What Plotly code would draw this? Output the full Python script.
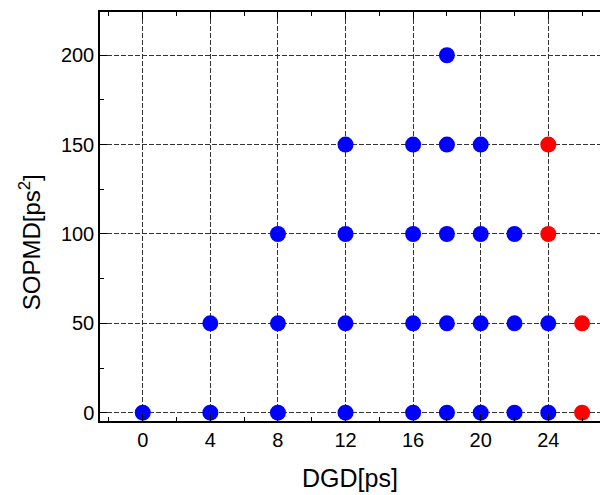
import plotly.graph_objects as go

# DGD / SOPMD combinations, grouped by marker colour
blue_dgd = [0, 4, 8, 12, 16, 18, 20, 22, 24,
            4, 8, 12, 16, 18, 20, 22, 24,
            8, 12, 16, 18, 20, 22,
            12, 16, 18, 20,
            18]
blue_sopmd = [0, 0, 0, 0, 0, 0, 0, 0, 0,
              50, 50, 50, 50, 50, 50, 50, 50,
              100, 100, 100, 100, 100, 100,
              150, 150, 150, 150,
              200]
red_dgd = [26, 26, 24, 24]
red_sopmd = [0, 50, 100, 150]

x_ticks = [0, 4, 8, 12, 16, 20, 24]
y_ticks = [0, 50, 100, 150, 200]

FONT = "Liberation Sans, Arial, sans-serif"

fig = go.Figure()
fig.add_trace(go.Scatter(x=blue_dgd, y=blue_sopmd, mode="markers",
                         marker=dict(size=16, color="#0000ff", line=dict(width=0)),
                         showlegend=False))
fig.add_trace(go.Scatter(x=red_dgd, y=red_sopmd, mode="markers",
                         marker=dict(size=16, color="#ff0000", line=dict(width=0)),
                         showlegend=False))

grid = dict(showgrid=True, gridcolor="#333333", griddash="5px,2px", gridwidth=1,
            zeroline=False, showline=True, linecolor="black", linewidth=1.5,
            ticks="inside", ticklen=7, tickwidth=1, tickcolor="black",
            tickfont=dict(family=FONT, size=20, color="black"))

fig.update_xaxes(range=[-2.53, 27.06], tickvals=x_ticks, mirror="ticks",
                 minor=dict(dtick=2, tick0=0, ticks="inside", ticklen=4,
                            tickcolor="black", showgrid=False),
                 title=dict(text="DGD[ps]", font=dict(family=FONT, size=25, color="black"),
                            standoff=20),
                 **grid)
fig.update_yaxes(range=[-4.64, 224.2], tickvals=y_ticks,
                 minor=dict(dtick=25, tick0=0, ticks="inside", ticklen=4,
                            tickcolor="black", showgrid=False),
                 **grid)

# vertical axis label, placed slightly below the axis midpoint
fig.add_annotation(text="SOPMD[ps<sup>2</sup>]", textangle=-90,
                   xref="paper", yref="paper", x=-0.14, y=0.437,
                   xanchor="center", yanchor="middle", showarrow=False,
                   font=dict(family=FONT, size=24, color="black"))

fig.update_layout(width=600, height=495, margin=dict(l=100, r=0, t=12, b=74),
                  plot_bgcolor="white", paper_bgcolor="white")

fig.write_html("out.html")
